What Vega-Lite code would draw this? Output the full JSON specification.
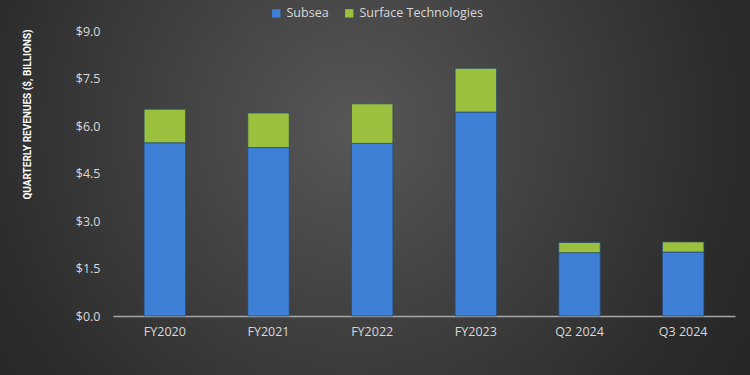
{
  "$schema": "https://vega.github.io/schema/vega-lite/v6.json",
  "width": 750,
  "height": 375,
  "autosize": "none",
  "padding": 0,
  "background": "#262626",
  "data": {
    "values": [
      {"period": "FY2020", "segment": "Subsea", "revenue": 5.47},
      {"period": "FY2020", "segment": "Surface Technologies", "revenue": 1.06},
      {"period": "FY2021", "segment": "Subsea", "revenue": 5.32},
      {"period": "FY2021", "segment": "Surface Technologies", "revenue": 1.09},
      {"period": "FY2022", "segment": "Subsea", "revenue": 5.45},
      {"period": "FY2022", "segment": "Surface Technologies", "revenue": 1.25},
      {"period": "FY2023", "segment": "Subsea", "revenue": 6.44},
      {"period": "FY2023", "segment": "Surface Technologies", "revenue": 1.38},
      {"period": "Q2 2024", "segment": "Subsea", "revenue": 2.0},
      {"period": "Q2 2024", "segment": "Surface Technologies", "revenue": 0.32},
      {"period": "Q3 2024", "segment": "Subsea", "revenue": 2.02},
      {"period": "Q3 2024", "segment": "Surface Technologies", "revenue": 0.32}
    ]
  },
  "mark": {"type": "bar", "stroke": "#24496f", "strokeWidth": 1, "strokeOpacity": 0.7},
  "encoding": {
    "x": {
      "field": "period",
      "type": "nominal",
      "sort": null,
      "scale": {"paddingInner": 0.6, "paddingOuter": 0.3, "range": [113, 735]},
      "axis": {
        "title": null,
        "offset": -59,
        "labelAngle": 0,
        "labelColor": "#d9d9d9",
        "labelFont": "Open Sans",
        "labelFontSize": 12.5,
        "labelPadding": 9,
        "ticks": false,
        "domainColor": "#a6a6a6",
        "domainWidth": 1.5
      }
    },
    "y": {
      "field": "revenue",
      "type": "quantitative",
      "stack": "zero",
      "scale": {"domain": [0, 9], "range": [316, 31]},
      "axis": {
        "offset": -113,
        "values": [0, 1.5, 3, 4.5, 6, 7.5, 9],
        "format": "$.1f",
        "grid": false,
        "domain": false,
        "ticks": false,
        "labelColor": "#d9d9d9",
        "labelFont": "Open Sans",
        "labelFontSize": 12.5,
        "labelPadding": 13,
        "title": "QUARTERLY REVENUES ($, BILLIONS)",
        "titleColor": "#ffffff",
        "titleFont": "Roboto",
        "titleFontSize": 10,
        "titleFontWeight": "bold",
        "titleX": -86,
        "titleY": 114,
        "titleAlign": "center",
        "titleBaseline": "middle",
        "titleAngle": 270
      }
    },
    "color": {
      "field": "segment",
      "type": "nominal",
      "scale": {"domain": ["Subsea", "Surface Technologies"], "range": ["#3d80d6", "#9bc03e"]},
      "legend": {
        "title": null,
        "orient": "none",
        "direction": "horizontal",
        "legendX": 270,
        "legendY": 7,
        "symbolType": "square",
        "symbolSize": 70,
        "symbolStrokeWidth": 0,
        "labelColor": "#d9d9d9",
        "labelFont": "Open Sans",
        "labelFontSize": 12.5,
        "columnPadding": 14,
        "labelOffset": 4
      }
    },
    "order": {"field": "segment", "sort": "ascending"}
  },
  "config": {
    "view": {
      "stroke": null,
      "fill": {
        "gradient": "radial",
        "x1": 0.47, "y1": 0.42, "r1": 0,
        "x2": 0.47, "y2": 0.42, "r2": 0.62,
        "stops": [
          {"offset": 0, "color": "#575757"},
          {"offset": 0.8, "color": "#2c2c2c"},
          {"offset": 1, "color": "#262626"}
        ]
      }
    }
  }
}
